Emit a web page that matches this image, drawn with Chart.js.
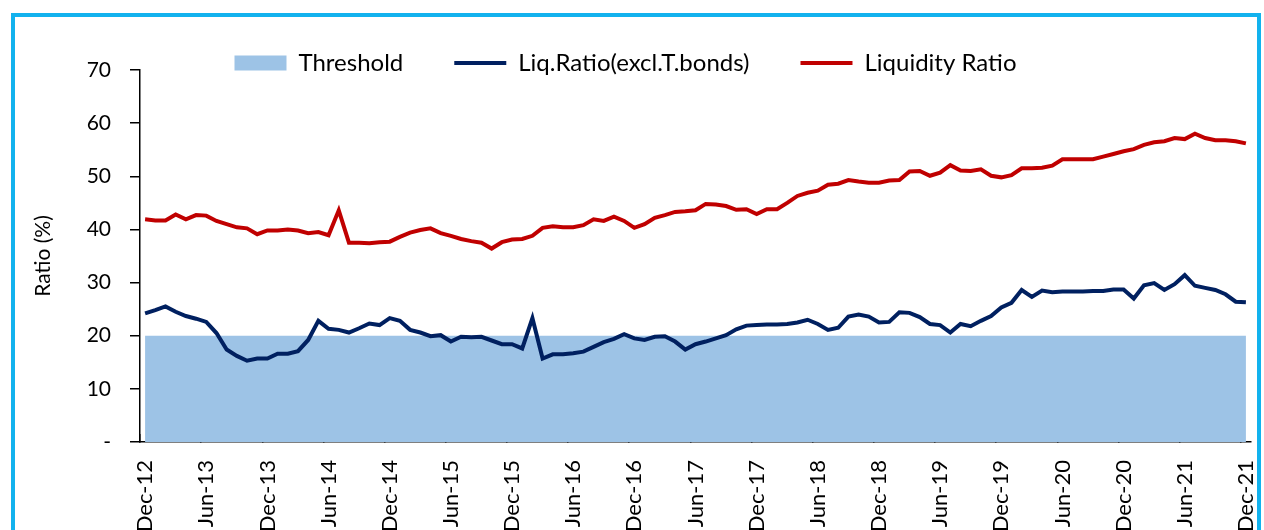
<!DOCTYPE html>
<html lang="en">

<head>
    <meta charset="UTF-8">
    <title>Liquidity Ratio</title>
    <style>
        html, body { margin: 0; padding: 0; background: #fff; overflow: hidden; }
        #frame {
            position: absolute; left: 11px; top: 13px; width: 1250px; height: 600px;
            border: 4px solid #12b2ee; box-sizing: border-box;
        }
        #wrap { position: absolute; left: 0; top: 0; width: 1264px; height: 530px; }
    </style>
</head>

<body>
    <div id="frame"></div>
    <div id="wrap">
        <canvas id="myChart"></canvas>
    </div>

    <script src="https://cdn.jsdelivr.net/npm/chart.js"></script>
    <script>
        // monthly, Dec-12 .. Dec-21
        const months = [
            "Dec-12",
            "Jan-13", "Feb-13", "Mar-13", "Apr-13", "May-13", "Jun-13", "Jul-13", "Aug-13", "Sep-13", "Oct-13", "Nov-13", "Dec-13",
            "Jan-14", "Feb-14", "Mar-14", "Apr-14", "May-14", "Jun-14", "Jul-14", "Aug-14", "Sep-14", "Oct-14", "Nov-14", "Dec-14",
            "Jan-15", "Feb-15", "Mar-15", "Apr-15", "May-15", "Jun-15", "Jul-15", "Aug-15", "Sep-15", "Oct-15", "Nov-15", "Dec-15",
            "Jan-16", "Feb-16", "Mar-16", "Apr-16", "May-16", "Jun-16", "Jul-16", "Aug-16", "Sep-16", "Oct-16", "Nov-16", "Dec-16",
            "Jan-17", "Feb-17", "Mar-17", "Apr-17", "May-17", "Jun-17", "Jul-17", "Aug-17", "Sep-17", "Oct-17", "Nov-17", "Dec-17",
            "Jan-18", "Feb-18", "Mar-18", "Apr-18", "May-18", "Jun-18", "Jul-18", "Aug-18", "Sep-18", "Oct-18", "Nov-18", "Dec-18",
            "Jan-19", "Feb-19", "Mar-19", "Apr-19", "May-19", "Jun-19", "Jul-19", "Aug-19", "Sep-19", "Oct-19", "Nov-19", "Dec-19",
            "Jan-20", "Feb-20", "Mar-20", "Apr-20", "May-20", "Jun-20", "Jul-20", "Aug-20", "Sep-20", "Oct-20", "Nov-20", "Dec-20",
            "Jan-21", "Feb-21", "Mar-21", "Apr-21", "May-21", "Jun-21", "Jul-21", "Aug-21", "Sep-21", "Oct-21", "Nov-21", "Dec-21"
        ];

        const threshold = [
            20,
            20, 20, 20, 20, 20, 20, 20, 20, 20, 20, 20, 20,
            20, 20, 20, 20, 20, 20, 20, 20, 20, 20, 20, 20,
            20, 20, 20, 20, 20, 20, 20, 20, 20, 20, 20, 20,
            20, 20, 20, 20, 20, 20, 20, 20, 20, 20, 20, 20,
            20, 20, 20, 20, 20, 20, 20, 20, 20, 20, 20, 20,
            20, 20, 20, 20, 20, 20, 20, 20, 20, 20, 20, 20,
            20, 20, 20, 20, 20, 20, 20, 20, 20, 20, 20, 20,
            20, 20, 20, 20, 20, 20, 20, 20, 20, 20, 20, 20,
            20, 20, 20, 20, 20, 20, 20, 20, 20, 20, 20, 20
        ];

        const liqExclTBonds = [
            24.2,
            24.8, 25.5, 24.5, 23.7, 23.2, 22.6, 20.5, 17.4, 16.2, 15.3, 15.7, 15.7,
            16.6, 16.6, 17.1, 19.2, 22.8, 21.3, 21.1, 20.6, 21.4, 22.3, 22.0, 23.3,
            22.8, 21.1, 20.6, 19.9, 20.1, 18.9, 19.8, 19.7, 19.8, 19.1, 18.4, 18.4,
            17.6, 23.3, 15.7, 16.5, 16.5, 16.7, 17.0, 17.9, 18.8, 19.4, 20.3, 19.5,
            19.2, 19.8, 19.9, 18.9, 17.4, 18.4, 18.9, 19.5, 20.1, 21.2, 21.9, 22.0,
            22.1, 22.1, 22.2, 22.5, 23.0, 22.2, 21.1, 21.5, 23.6, 24.0, 23.6, 22.5,
            22.6, 24.4, 24.3, 23.5, 22.2, 22.0, 20.6, 22.2, 21.8, 22.8, 23.7, 25.3,
            26.2, 28.6, 27.3, 28.5, 28.2, 28.3, 28.3, 28.3, 28.4, 28.4, 28.7, 28.7,
            27.0, 29.5, 29.9, 28.6, 29.7, 31.4, 29.4, 29.0, 28.6, 27.8, 26.4, 26.3
        ];

        const liqRatio = [
            41.9,
            41.7, 41.7, 42.8, 41.9, 42.7, 42.6, 41.6, 41.0, 40.4, 40.2, 39.1, 39.8,
            39.8, 40.0, 39.8, 39.3, 39.5, 38.9, 43.6, 37.5, 37.5, 37.4, 37.6, 37.7,
            38.6, 39.4, 39.9, 40.2, 39.3, 38.8, 38.2, 37.8, 37.5, 36.4, 37.6, 38.1,
            38.2, 38.8, 40.3, 40.6, 40.4, 40.4, 40.8, 41.9, 41.6, 42.4, 41.6, 40.3,
            41.0, 42.2, 42.7, 43.3, 43.4, 43.6, 44.8, 44.7, 44.4, 43.7, 43.8, 42.9,
            43.8, 43.8, 45.0, 46.3, 46.9, 47.3, 48.4, 48.6, 49.3, 49.0, 48.8, 48.8,
            49.2, 49.3, 50.9, 51.0, 50.1, 50.7, 52.1, 51.1, 51.0, 51.3, 50.1, 49.8,
            50.2, 51.5, 51.5, 51.6, 52.0, 53.2, 53.2, 53.2, 53.2, 53.7, 54.2, 54.7,
            55.1, 55.9, 56.4, 56.6, 57.2, 57.0, 58.0, 57.2, 56.8, 56.8, 56.6, 56.2
        ];

        const yTicks = [0, 10, 20, 30, 40, 50, 60, 70];

        const FONT = "Lato, 'Open Sans', sans-serif";
        Chart.defaults.font.family = FONT;
        Chart.defaults.color = "#000";

        // legend overlaps the top of the plot like in Excel:
        // reserve 70px for it, then let it draw a bit lower without clipping
        const legendHeight = {
            id: "legendHeight",
            beforeInit(chart) {
                const fit = chart.legend.fit;
                chart.legend.fit = function () {
                    fit.bind(chart.legend)();
                    this.height = 70;
                };
            },
            afterLayout(chart) {
                chart.legend.height = 100;
                chart.legend.bottom = chart.legend.top + 100;
            }
        };

        const ctx = document.getElementById("myChart");

        new Chart(ctx, {
            type: "line",
            data: {
                labels: months,
                datasets: [
                    {
                        label: "Threshold",
                        data: threshold,
                        fill: "origin",
                        backgroundColor: "#9dc3e6",
                        borderColor: "rgba(0,0,0,0)",
                        borderWidth: 0,
                        pointRadius: 0,
                        pointStyle: "rect"
                    },
                    {
                        label: "Liq.Ratio(excl.T.bonds)",
                        data: liqExclTBonds,
                        borderColor: "#002060",
                        backgroundColor: "#002060",
                        borderWidth: 4,
                        pointRadius: 0,
                        pointStyle: "line",
                        tension: 0
                    },
                    {
                        label: "Liquidity Ratio",
                        data: liqRatio,
                        borderColor: "#c00000",
                        backgroundColor: "#c00000",
                        borderWidth: 4,
                        pointRadius: 0,
                        pointStyle: "line",
                        tension: 0
                    }
                ]
            },
            options: {
                responsive: true,
                maintainAspectRatio: false,
                animation: false,
                layout: { padding: { left: 0, right: 13, top: 0, bottom: 0 } },
                plugins: {
                    filler: { drawTime: "beforeDatasetsDraw" },
                    tooltip: { enabled: false },
                    legend: {
                        position: "top",
                        labels: {
                            usePointStyle: true,
                            pointStyleWidth: 52,
                            boxHeight: 15,
                            padding: 51,
                            color: "#000",
                            font: { size: 24 }
                        }
                    }
                },
                scales: {
                    x: {
                        offset: true,
                        border: { color: "#000", width: 1.5 },
                        grid: {
                            offset: true,
                            drawOnChartArea: false,
                            tickLength: -8,
                            lineWidth: 1.5,
                            color: (c) => (c.index % 6 === 0 ? "#000" : "rgba(0,0,0,0)")
                        },
                        ticks: {
                            autoSkip: false,
                            minRotation: 90,
                            maxRotation: 90,
                            padding: 26,
                            font: { size: 22 },
                            callback: function (val, index) {
                                return index % 6 === 0 ? this.getLabelForValue(val) : "";
                            }
                        },
                        afterFit: (scale) => {
                            scale.height = 88;
                            scale.paddingLeft = 0;
                            scale.paddingRight = 0;
                        }
                    },
                    y: {
                        min: 0,
                        max: 70,
                        border: { color: "#000", width: 1.5 },
                        grid: { drawOnChartArea: false, tickLength: 10, color: "#000", lineWidth: 1.5 },
                        afterBuildTicks: (scale) => { scale.ticks = yTicks.map(v => ({ value: v })); },
                        ticks: {
                            padding: 19,
                            font: { size: 21 },
                            callback: (v) => (v === 0 ? "-" : v)
                        },
                        title: {
                            display: true,
                            text: "Ratio (%)",
                            font: { size: 21 },
                            padding: { top: 31, bottom: 0 }
                        },
                        afterFit: (scale) => { scale.width = 140; }
                    }
                }
            },
            plugins: [legendHeight]
        });
    </script>
</body>

</html>
